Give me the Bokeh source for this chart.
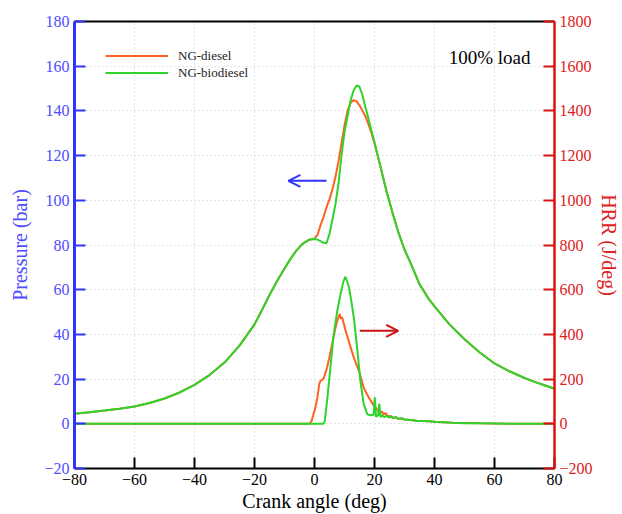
from bokeh.plotting import figure
from bokeh.models import (Range1d, LinearAxis, FixedTicker, Legend, LegendItem,
                          Label, Arrow, OpenHead)
from bokeh.embed import file_html
from bokeh.resources import INLINE

# ---------------- data ----------------
crank_p = [-80, -75, -70, -65, -60, -55, -50, -45, -40, -35, -30, -25, -20, -17.5, -15,
           -12.5, -10, -8, -6, -4, -2, -1, 0, 1, 2, 3, 4, 5, 6, 7, 8, 9, 10, 11, 12, 13,
           14, 15, 16, 17, 18, 19, 20, 22, 24, 26, 28, 30, 32, 35, 38, 40, 45, 50, 55,
           60, 65, 70, 75, 80]
p_diesel = [4.5, 5.2, 5.9, 6.7, 7.7, 9.3, 11.3, 14.0, 17.4, 21.8, 27.4, 35.0, 44.5, 50.9, 57.6,
            63.8, 69.5, 73.8, 77.6, 80.5, 82.2, 82.6, 82.9, 84.5, 88.8, 92.5, 96.8, 100.5, 105.0,
            110.5, 117.5, 125.5, 133.5, 140.0, 143.5, 144.8, 144.3, 142.5, 140.0, 137.5,
            134.0, 130.0, 125.5, 115.0, 104.0, 94.5, 85.5, 78.0, 72.0, 62.5, 56.0, 52.5,
            44.5, 37.8, 32.0, 27.0, 23.5, 20.5, 18.0, 15.7]
p_biodiesel = [4.5, 5.2, 5.9, 6.7, 7.7, 9.3, 11.3, 14.0, 17.4, 21.8, 27.4, 35.0, 44.5, 50.9, 57.6,
               63.8, 69.5, 73.8, 77.6, 80.5, 82.2, 82.6, 82.7, 82.4, 81.7, 81.0, 80.8, 85.0,
               91.5, 98.4, 107.5, 120.0, 130.5, 137.5, 144.5, 149.0, 151.4, 150.8, 147.0,
               141.5, 136.5, 131.0, 126.0, 115.0, 104.0, 94.5, 85.5, 78.0, 72.0, 62.5, 56.0,
               52.5, 44.5, 37.8, 32.0, 27.0, 23.5, 20.5, 18.0, 15.7]

crank_hrr_diesel = [-80, -2, -1.5, -1, -0.5, 0.3, 1, 1.6, 2, 2.6, 3.1, 4.2, 5, 5.9, 7, 7.8, 8.4,
                    8.8, 9.2, 9.8, 10.5, 11.4, 12.2, 13.1, 14, 14.8, 15.6, 16.4, 17.2, 18.1,
                    19, 19.8, 20.9, 22, 22.5, 23, 23.7, 24.5, 25.3, 26, 27, 28, 29, 30, 32,
                    34, 36, 38, 40, 43, 46, 50, 55, 60, 65, 80]
hrr_diesel = [0, 0, 3, 12, 35, 73, 120, 180, 192, 197, 205, 252, 300, 357, 431, 470, 491,
              470, 478, 446, 410, 371, 335, 297, 265, 237, 200, 162, 140, 118, 98, 81, 63,
              51, 55, 42, 48, 33, 35, 26, 29, 22, 24, 19, 17, 14, 13, 11, 9, 7, 5, 4, 2, 1,
              0, 0]

crank_hrr_biodiesel = [-80, 3, 3.4, 4.2, 5.3, 6.4, 7.6, 8.7, 9.6, 10.3, 10.8, 11.5, 12.2, 13.1,
                       14.2, 15.3, 16.4, 17.6, 18.7, 19.7, 20.1, 20.5, 21.2, 21.6, 22, 22.6,
                       23.2, 24, 24.8, 25.6, 26.4, 27.2, 28, 29, 30, 32, 34, 36, 38, 40, 43,
                       46, 50, 55, 60, 65, 80]
hrr_biodiesel = [0, 0, 10, 103, 252, 401, 506, 582, 635, 658, 640, 610, 555, 476, 341, 192,
                 88, 43, 38, 40, 118, 32, 38, 90, 30, 38, 30, 36, 28, 33, 26, 30, 22, 25, 19,
                 17, 14, 12, 11, 9, 7, 5, 3, 2, 1, 0, 0]

x_ticks = [-80, -60, -40, -20, 0, 20, 40, 60, 80]
p_ticks = [-20, 0, 20, 40, 60, 80, 100, 120, 140, 160, 180]
hrr_ticks = [-200, 0, 200, 400, 600, 800, 1000, 1200, 1400, 1600, 1800]

# ---------------- style ----------------
SERIF = "Liberation Serif"
ORANGE = "#FF6220"
GREEN = "#2CD42C"
BLUE = "#3333FF"
BLUE_TXT = "#4D4DFF"
RED = "#DD1111"
RED_TXT = "#E02020"

p = figure(width=622, height=514, output_backend="svg", toolbar_location=None,
           x_range=Range1d(-80, 80), y_range=Range1d(-20, 180),
           min_border_left=74, min_border_right=68, min_border_top=21, min_border_bottom=46)
p.outline_line_color = None
p.background_fill_color = "white"
p.border_fill_color = "white"
p.extra_y_ranges = {"hrr": Range1d(-200, 1800)}

# grids
p.xgrid.ticker = FixedTicker(ticks=x_ticks)
p.ygrid.ticker = FixedTicker(ticks=p_ticks)
for g in (p.xgrid, p.ygrid):
    g.grid_line_color = "#c8c8c8"
    g.grid_line_dash = "1 3"
    g.grid_line_width = 1

# bottom axis
xa = p.xaxis[0]
xa.ticker = FixedTicker(ticks=x_ticks)
xa.axis_label = "Crank angle (deg)"
xa.axis_line_color = "black"
xa.axis_line_width = 2
xa.major_tick_line_color = "black"
xa.major_tick_line_width = 2
xa.major_tick_in = 11
xa.major_tick_out = 0
xa.minor_tick_line_color = None
xa.major_label_text_font = SERIF
xa.major_label_text_font_size = "16px"
xa.major_label_text_color = "black"
xa.major_label_standoff = 5
xa.axis_label_text_font = SERIF
xa.axis_label_text_font_size = "20px"
xa.axis_label_text_font_style = "normal"
xa.axis_label_text_color = "black"
xa.axis_label_standoff = 2

# left axis
ya = p.yaxis[0]
ya.ticker = FixedTicker(ticks=p_ticks)
ya.axis_label = "Pressure (bar)"
ya.axis_line_color = BLUE
ya.axis_line_width = 3
ya.major_tick_line_color = BLUE
ya.major_tick_line_width = 2
ya.major_tick_in = 11
ya.major_tick_out = 0
ya.minor_tick_line_color = None
ya.major_label_text_font = SERIF
ya.major_label_text_font_size = "16px"
ya.major_label_text_color = BLUE_TXT
ya.major_label_standoff = 5
ya.axis_label_text_font = SERIF
ya.axis_label_text_font_size = "20px"
ya.axis_label_text_font_style = "normal"
ya.axis_label_text_color = BLUE_TXT
ya.axis_label_standoff = 10

# right axis
ra = LinearAxis(y_range_name="hrr", ticker=FixedTicker(ticks=hrr_ticks),
                axis_label="HRR (J/deg)")
ra.axis_line_color = RED
ra.axis_line_width = 2.5
ra.major_tick_line_color = RED
ra.major_tick_line_width = 2
ra.major_tick_in = 11
ra.major_tick_out = 0
ra.minor_tick_line_color = None
ra.major_label_text_font = SERIF
ra.major_label_text_font_size = "16px"
ra.major_label_text_color = RED_TXT
ra.major_label_standoff = 5
ra.axis_label_text_font = SERIF
ra.axis_label_text_font_size = "20px"
ra.axis_label_text_font_style = "normal"
ra.axis_label_text_color = RED_TXT
ra.axis_label_standoff = 2
p.add_layout(ra, "right")

# top axis (line only)
ta = LinearAxis(ticker=FixedTicker(ticks=[]))
ta.axis_line_color = "black"
ta.axis_line_width = 2
ta.major_tick_line_color = None
ta.minor_tick_line_color = None
ta.major_label_text_font_size = "0px"
p.add_layout(ta, "above")

# curves
r_pd = p.line(crank_p, p_diesel, line_color=ORANGE, line_width=2)
r_hd = p.line(crank_hrr_diesel, hrr_diesel, line_color=ORANGE, line_width=2, y_range_name="hrr")
r_pb = p.line(crank_p, p_biodiesel, line_color=GREEN, line_width=2)
r_hb = p.line(crank_hrr_biodiesel, hrr_biodiesel, line_color=GREEN, line_width=2, y_range_name="hrr")

legend = Legend(items=[LegendItem(label="NG-diesel", renderers=[r_pd]),
                       LegendItem(label="NG-biodiesel", renderers=[r_pb])],
                location=(31, 387), glyph_width=63, glyph_height=17, label_height=17,
                spacing=0, padding=0, margin=0, label_standoff=10,
                label_text_font=SERIF, label_text_font_size="13px",
                label_text_color="#222222",
                border_line_color=None, background_fill_alpha=0)
p.add_layout(legend)

# annotation text
p.add_layout(Label(x=72, y=164, text="100% load", text_align="right",
                   text_baseline="alphabetic", text_font=SERIF,
                   text_font_size="19px", text_color="black"))

# arrows
p.add_layout(Arrow(x_start=4, y_start=108.7, x_end=-8.7, y_end=108.7,
                   line_color=BLUE, line_width=2,
                   end=OpenHead(size=12, line_color=BLUE, line_width=2)))
p.add_layout(Arrow(x_start=15.1, y_start=416, x_end=27.9, y_end=416, y_range_name="hrr",
                   line_color="#CC1111", line_width=2,
                   end=OpenHead(size=12, line_color="#CC1111", line_width=2)))

open("out.html", "w").write(file_html(p, INLINE))
